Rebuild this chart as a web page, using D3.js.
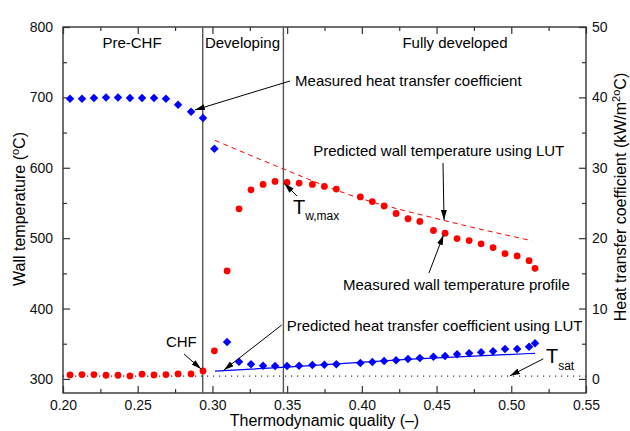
<!DOCTYPE html>
<html>
<head>
<meta charset="utf-8">
<script src="https://cdn.jsdelivr.net/npm/d3@7"></script>
<style>
  body { margin: 0; background: #fff; }
  svg { font-family: "Liberation Sans", Arial, sans-serif; }
  .tick text { font-size: 14px; fill: #111; }
  .tick line { stroke: #333; }
</style>
</head>
<body>
<div id="chart"></div>
<script>
// thermodynamic quality of each measurement station
const quality = [
  0.2047, 0.2127, 0.2207, 0.2288, 0.2368, 0.2448, 0.2529, 0.2609, 0.2689, 0.2770, 0.2857, 0.2937,
  0.3013, 0.3098, 0.3178, 0.3258, 0.3339, 0.3419, 0.3499, 0.3580, 0.3669, 0.3749, 0.3829,
  0.3990, 0.4070, 0.4149, 0.4229, 0.4309, 0.4388, 0.4479, 0.4557, 0.4637, 0.4718, 0.4798,
  0.4878, 0.4958, 0.5039, 0.5119, 0.5159
];
// measured wall temperature (C)
const wallTemp = [
  305.7, 306.2, 306.2, 305.2, 305.2, 304.3, 306.7, 305.7, 306.2, 307.1, 307.1, 311.4,
  339.9, 453.5, 541.6, 568.7, 576.4, 580.6, 579.2, 578.2, 576.4, 573.5, 569.7,
  558.6, 551.9, 545.7, 535.0, 527.6, 523.7, 510.9, 507.1, 499.4, 496.6, 491.9,
  486.6, 478.0, 474.7, 468.0, 457.1
];
// measured heat transfer coefficient (kW/m2C)
const htc = [
  39.8, 39.8, 39.9, 40.0, 40.0, 39.9, 39.9, 39.9, 39.8, 38.96, 37.96, 37.06,
  32.7, 5.24, 2.44, 2.07, 1.88, 1.83, 1.83, 1.88, 1.97, 2.02, 2.07,
  2.26, 2.4, 2.54, 2.64, 2.83, 2.97, 3.15, 3.25, 3.5, 3.64, 3.78,
  3.92, 4.25, 4.25, 4.58, 5.06
];
// LUT predictions
const predWallX = [0.3017, 0.3475, 0.3888, 0.4557, 0.5137];
const predWallT = [639, 598.3, 563.7, 524.8, 496.4];
const predHtcX = [0.3017, 0.35, 0.43, 0.5159];
const predHtc = [1.12, 1.68, 2.78, 3.64];

const tSat = 304;
const regionBounds = [0.2935, 0.3475];
const regionNames = ["Pre-CHF", "Developing", "Fully developed"];
const regionNameX = [0.2462, 0.3201, 0.4623];

const xTicks = [0.20, 0.25, 0.30, 0.35, 0.40, 0.45, 0.50, 0.55];
const xMinor = [0.225, 0.275, 0.325, 0.375, 0.425, 0.475, 0.525];
const yTicks = [300, 400, 500, 600, 700, 800];
const yMinor = [350, 450, 550, 650, 750];
const y2Ticks = [0, 10, 20, 30, 40, 50];
const y2Minor = [5, 15, 25, 35, 45];

const margin = { top: 27, right: 44, bottom: 38, left: 63 },
      width  = 630 - margin.left - margin.right,
      height = 431 - margin.top - margin.bottom;

const svg = d3.select("#chart")
  .append("svg")
  .attr("width", 630)
  .attr("height", 431)
  .append("g")
  .attr("transform", `translate(${margin.left},${margin.top})`);

const defs = svg.append("defs");
defs.append("marker")
  .attr("id", "head")
  .attr("viewBox", "0 0 10 6")
  .attr("refX", 10).attr("refY", 3)
  .attr("markerWidth", 10).attr("markerHeight", 6)
  .attr("markerUnits", "userSpaceOnUse")
  .attr("orient", "auto")
  .append("path")
  .attr("d", "M0,0L10,3L0,6Z")
  .attr("fill", "#000");

const x = d3.scaleLinear().domain([0.2, 0.55]).range([0, width]);
const y = d3.scaleLinear().domain([280, 800]).range([height, 0]);
const y2 = d3.scaleLinear().domain([-2, 50]).range([height, 0]);

// axes, ticks pointing inward
function tickAxis(axis, vals, size, labels, pad) {
  return axis.tickValues(vals).tickSize(size).tickPadding(pad || 0)
    .tickFormat(labels ? labels : () => "");
}
const fx = d => d3.format(".2f")(d);

const gx = svg.append("g").attr("transform", `translate(0,${height})`);
gx.append("g").call(tickAxis(d3.axisBottom(x), xTicks, -7, fx, 7));
gx.append("g").call(tickAxis(d3.axisBottom(x), xMinor, -4, null));

const gt = svg.append("g");
gt.append("g").call(tickAxis(d3.axisTop(x), xTicks, -7, null));
gt.append("g").call(tickAxis(d3.axisTop(x), xMinor, -4, null));

const gy = svg.append("g");
gy.append("g").call(tickAxis(d3.axisLeft(y), yTicks, -7, d => d, 10));
gy.append("g").call(tickAxis(d3.axisLeft(y), yMinor, -4, null));

const gy2 = svg.append("g").attr("transform", `translate(${width},0)`);
gy2.append("g").call(tickAxis(d3.axisRight(y2), y2Ticks, -7, d => d, 6));
gy2.append("g").call(tickAxis(d3.axisRight(y2), y2Minor, -4, null));

svg.selectAll(".domain").remove();
svg.selectAll(".tick line").attr("stroke", "#333").attr("stroke-width", 1.2);

// frame
svg.append("rect")
  .attr("width", width).attr("height", height)
  .attr("fill", "none").attr("stroke", "#333").attr("stroke-width", 1.4);

// region boundaries
svg.selectAll("line.region")
  .data(regionBounds)
  .join("line")
  .attr("class", "region")
  .attr("x1", d => x(d)).attr("x2", d => x(d))
  .attr("y1", 0).attr("y2", height)
  .attr("stroke", "#555").attr("stroke-width", 1.4);

svg.selectAll("text.region")
  .data(regionNames)
  .join("text")
  .attr("class", "region")
  .attr("x", (d, i) => x(regionNameX[i]))
  .attr("y", y(770))
  .attr("text-anchor", "middle")
  .style("font-size", "15px")
  .text(d => d);

// saturation temperature
svg.append("line")
  .attr("x1", 0).attr("x2", width)
  .attr("y1", y(tSat)).attr("y2", y(tSat))
  .attr("stroke", "#000").attr("stroke-width", 1)
  .attr("stroke-dasharray", "1.2,4.8");

// predicted wall temperature
svg.append("path")
  .datum(predWallX.map((q, i) => [q, predWallT[i]]))
  .attr("fill", "none")
  .attr("stroke", "#ff0000")
  .attr("stroke-width", 1)
  .attr("stroke-dasharray", "5,4")
  .attr("d", d3.line().x(d => x(d[0])).y(d => y(d[1])).curve(d3.curveMonotoneX));

// predicted heat transfer coefficient
svg.append("path")
  .datum(predHtcX.map((q, i) => [q, predHtc[i]]))
  .attr("fill", "none")
  .attr("stroke", "#0000ff")
  .attr("stroke-width", 1.2)
  .attr("d", d3.line().x(d => x(d[0])).y(d => y2(d[1])).curve(d3.curveMonotoneX));

// measured wall temperature
svg.selectAll("circle.wall")
  .data(quality.map((q, i) => [q, wallTemp[i]]))
  .join("circle")
  .attr("class", "wall")
  .attr("cx", d => x(d[0]))
  .attr("cy", d => y(d[1]))
  .attr("r", 3.4)
  .attr("fill", "#ff0000");

// measured HTC
const diamond = d3.symbol(d3.symbolSquare, 36);
svg.selectAll("path.htc")
  .data(quality.map((q, i) => [q, htc[i]]))
  .join("path")
  .attr("class", "htc")
  .attr("d", diamond)
  .attr("transform", d => `translate(${x(d[0])},${y2(d[1])}) rotate(45)`)
  .attr("fill", "#0000ff");

// annotations: text position and arrow, in data units (quality, wall temperature)
const notes = [
  { text: "Measured heat transfer coefficient", at: [0.3553, 716.2], from: [0.3519, 723.3], to: [0.2883, 682.1] },
  { text: "Predicted wall temperature using LUT", at: [0.3675, 616.7], from: [0.4543, 606.8], to: [0.4550, 525.8] },
  { text: "Measured wall temperature profile", at: [0.3874, 426.3], from: [0.4449, 450.5], to: [0.4546, 504.5] },
  { text: "Predicted heat transfer coefficient using LUT", at: [0.3497, 368.1], from: [0.3464, 376.6], to: [0.3077, 312.7] },
  { text: "CHF", at: [0.2689, 345.4], from: [0.2810, 335.4], to: [0.2924, 314.1] },
  { text: "", at: [0, 0], from: [0.3566, 559.9], to: [0.3482, 577.7] },
  { text: "", at: [0, 0], from: [0.5214, 328.5], to: [0.4991, 304.4] }
];

svg.selectAll("line.arrow")
  .data(notes)
  .join("line")
  .attr("class", "arrow")
  .attr("x1", d => x(d.from[0])).attr("y1", d => y(d.from[1]))
  .attr("x2", d => x(d.to[0])).attr("y2", d => y(d.to[1]))
  .attr("stroke", "#000").attr("stroke-width", 1)
  .attr("marker-end", "url(#head)");

svg.selectAll("text.note")
  .data(notes.filter(d => d.text))
  .join("text")
  .attr("class", "note")
  .attr("x", d => x(d.at[0]))
  .attr("y", d => y(d.at[1]))
  .style("font-size", "15px")
  .text(d => d.text);

// T_w,max and T_sat
const tw = svg.append("text")
  .attr("x", x(0.3539)).attr("y", y(534.3))
  .style("font-size", "20px");
tw.append("tspan").text("T");
tw.append("tspan").attr("dy", 6).style("font-size", "12px").text("w,max");

const ts = svg.append("text")
  .attr("x", x(0.5232)).attr("y", y(322))
  .style("font-size", "20px");
ts.append("tspan").text("T");
ts.append("tspan").attr("dy", 7).style("font-size", "12px").text("sat");

// axis titles
svg.append("text")
  .attr("x", width / 2).attr("y", height + 33)
  .attr("text-anchor", "middle")
  .style("font-size", "16px")
  .text("Thermodynamic quality (\u2013)");

const yl = svg.append("text")
  .attr("transform", `translate(${-38},${height / 2 - 1}) rotate(-90)`)
  .attr("text-anchor", "middle")
  .style("font-size", "16px");
yl.append("tspan").text("Wall temperature (");
yl.append("tspan").attr("dy", -6).style("font-size", "11px").text("o");
yl.append("tspan").attr("dy", 6).text("C)");

const yr = svg.append("text")
  .attr("transform", `translate(${width + 40},${height / 2 - 13}) rotate(-90)`)
  .attr("text-anchor", "middle")
  .style("font-size", "16px");
yr.append("tspan").text("Heat transfer coefficient (kW/m");
yr.append("tspan").attr("dy", -6).style("font-size", "11px").text("2o");
yr.append("tspan").attr("dy", 6).text("C)");
</script>
</body>
</html>
